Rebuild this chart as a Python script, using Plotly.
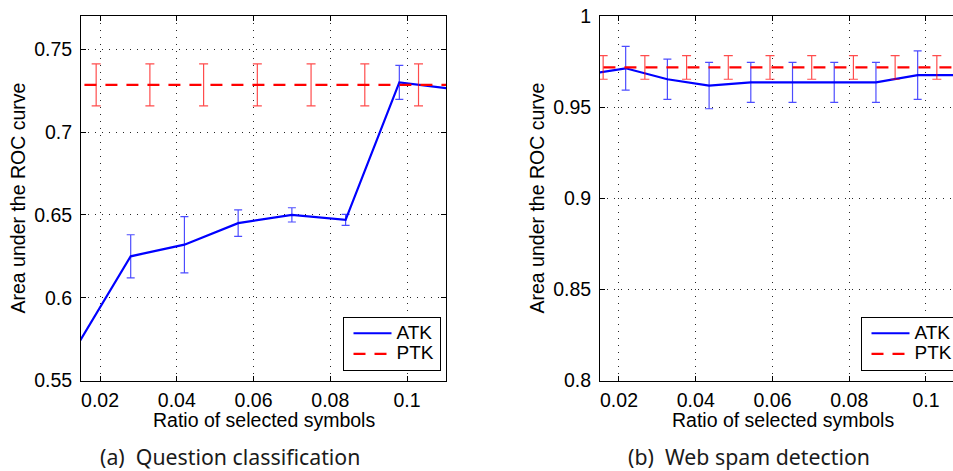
import plotly.graph_objects as go

# ---------------- data ----------------
# (a) Question classification
qc_atk_x = [0.014, 0.028, 0.042, 0.056, 0.070, 0.084, 0.098, 0.112]
qc_atk_y = [0.571, 0.625, 0.632, 0.645, 0.650, 0.647, 0.730, 0.726]
qc_atk_err = [0.012, 0.013, 0.017, 0.008, 0.0043, 0.0033, 0.0103, 0.006]
qc_ptk_x = [0.005, 0.019, 0.033, 0.047, 0.061, 0.075, 0.089, 0.103, 0.117]
qc_ptk_y = [0.7285] * 9
qc_ptk_err = [0.0127] * 9

# (b) Web spam detection
ws_atk_x = [0.01087, 0.02174, 0.03261, 0.04348, 0.05435, 0.06522, 0.07609, 0.08696, 0.09783, 0.10870]
ws_atk_y = [0.9676, 0.9713, 0.9653, 0.9618, 0.9636, 0.9636, 0.9636, 0.9636, 0.9676, 0.9676]
ws_atk_err = [0.010, 0.012, 0.011, 0.0127, 0.011, 0.011, 0.011, 0.011, 0.0133, 0.013]
ws_ptk_x = [0.00500, 0.01587, 0.02674, 0.03761, 0.04848, 0.05935, 0.07022, 0.08109, 0.09196, 0.10283, 0.11370]
ws_ptk_y = [0.9718] * 11
ws_ptk_err = [0.0065] * 11

x_tickvals = [0.02, 0.04, 0.06, 0.08, 0.1]
x_ticktext = ["0.02", "0.04", "0.06", "0.08", "0.1"]
qc_y_tickvals = [0.55, 0.6, 0.65, 0.7, 0.75]
qc_y_ticktext = ["0.55", "0.6", "0.65", "0.7", "0.75"]
ws_y_tickvals = [0.8, 0.85, 0.9, 0.95, 1.0]
ws_y_ticktext = ["0.8", "0.85", "0.9", "0.95", "1"]

series_names = ["ATK", "PTK"]
x_title = "Ratio of selected symbols"
y_title = "Area under the ROC curve"
captions = ["(a)\u00a0\u00a0Question classification", "(b)\u00a0\u00a0Web spam detection"]

# ---------------- figure ----------------
W, H = 953, 471
BLUE = "#0000ff"
RED = "#ff0000"
BLUE_EB = "rgba(0,0,255,0.7)"
RED_EB = "rgba(255,0,0,0.7)"
FAMILY = "Liberation Sans, Arial, Helvetica, sans-serif"
TICKFONT = dict(family=FAMILY, size=19.5, color="black")

fig = go.Figure()


def legend_label(s):
    return "<span style='font-size:19px'>%s</span>" % s


def add_pair(ax, ay, ae, px, py, pe, xa, ya, leg):
    fig.add_trace(go.Scatter(
        x=ax, y=ay, mode="lines", name=legend_label(series_names[0]),
        line=dict(color=BLUE, width=2.2),
        error_y=dict(type="data", array=ae, visible=True, color=BLUE_EB, thickness=1.2, width=4),
        xaxis=xa, yaxis=ya, legend=leg))
    fig.add_trace(go.Scatter(
        x=px, y=py, mode="lines", name=legend_label(series_names[1]),
        line=dict(color=RED, width=2.2, dash="12px,9px"),
        error_y=dict(type="data", array=pe, visible=True, color=RED_EB, thickness=1.2, width=4.5),
        xaxis=xa, yaxis=ya, legend=leg))


add_pair(qc_atk_x, qc_atk_y, qc_atk_err, qc_ptk_x, qc_ptk_y, qc_ptk_err, "x", "y", "legend")
add_pair(ws_atk_x, ws_atk_y, ws_atk_err, ws_ptk_x, ws_ptk_y, ws_ptk_err, "x2", "y2", "legend2")


def px_x(p):
    return p / W


def px_y(p):
    return 1 - p / H


ydom = [px_y(380.5), px_y(16)]

common_x = dict(
    tickvals=x_tickvals, ticktext=x_ticktext, tickfont=TICKFONT,
    ticks="inside", ticklen=5, tickcolor="black", tickwidth=1,
    showline=True, linecolor="black", linewidth=1,
    showgrid=True, gridcolor="rgba(0,0,0,0.85)", gridwidth=1, griddash="1px,6px",
    zeroline=False, ticklabelstandoff=2,
)
common_y = dict(
    tickfont=TICKFONT,
    ticks="inside", ticklen=5, tickcolor="black", tickwidth=1,
    showline=True, linecolor="black", linewidth=1,
    showgrid=True, gridcolor="rgba(0,0,0,0.85)", gridwidth=1, griddash="1px,6px",
    zeroline=False, ticklabelstandoff=4,
)

legend_common = dict(
    bgcolor="white", bordercolor="black", borderwidth=1,
    font=dict(family=FAMILY, size=13.5, color="black"),
    tracegroupgap=0, itemsizing="trace", itemwidth=38,
)

fig.update_layout(
    width=W, height=H,
    margin=dict(l=0, r=0, t=0, b=0, autoexpand=False),
    paper_bgcolor="white", plot_bgcolor="white",
    showlegend=True,
    xaxis=dict(domain=[px_x(81), px_x(446)], range=[0.01505, 0.11016], anchor="y",
               mirror="ticks", **common_x),
    yaxis=dict(domain=ydom, range=[0.55, 0.7701], anchor="x",
               tickvals=qc_y_tickvals, ticktext=qc_y_ticktext, mirror="ticks", **common_y),
    xaxis2=dict(domain=[px_x(600), 1.0], range=[0.01505, 0.10704], anchor="y2",
                mirror="ticks", **common_x),
    yaxis2=dict(domain=ydom, range=[0.8, 1.0], anchor="x2",
                tickvals=ws_y_tickvals, ticktext=ws_y_ticktext, mirror=False, **common_y),
    legend=dict(x=px_x(342.5), y=px_y(371), xanchor="left", yanchor="bottom", **legend_common),
    legend2=dict(x=px_x(860.5), y=px_y(371), xanchor="left", yanchor="bottom", **legend_common),
)
try:
    fig.update_layout(legend_indentation=5, legend2_indentation=5)
except Exception:
    pass

ann_font = dict(family=FAMILY, size=19.5, color="black")
cap_font = dict(family="Noto Sans, Open Sans, sans-serif", size=21.3, color="#1a1a1a")
for (yt_x, xt_x, cap_x, cap) in [(17.5, 263.5, 230, captions[0]), (536.5, 782.5, 748.5, captions[1])]:
    fig.add_annotation(x=px_x(yt_x), y=px_y(198), xref="paper", yref="paper", text=y_title,
                       textangle=-90, showarrow=False, font=ann_font, xanchor="center", yanchor="middle")
    fig.add_annotation(x=px_x(xt_x), y=px_y(420), xref="paper", yref="paper", text=x_title,
                       showarrow=False, font=ann_font, xanchor="center", yanchor="middle")
    fig.add_annotation(x=px_x(cap_x), y=px_y(456), xref="paper", yref="paper", text=cap,
                       showarrow=False, font=cap_font, xanchor="center", yanchor="middle")

fig.write_html("out.html")
